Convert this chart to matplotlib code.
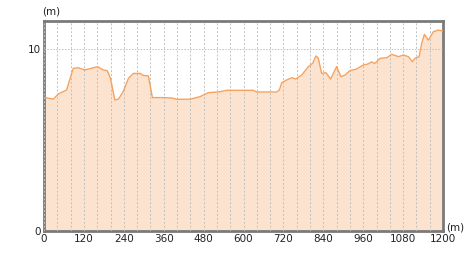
import matplotlib
matplotlib.use("Agg")
import matplotlib.pyplot as plt
import numpy as np

distance_m = [0, 28, 43, 68, 88, 103, 123, 143, 161, 178, 190, 200, 213, 224, 238, 254, 269, 289,
              299, 314, 326, 359, 384, 399, 439, 469, 494, 529, 549, 589, 629, 640, 700, 708,
              715, 730, 745, 757, 775, 795, 808, 818, 825, 835, 848, 862, 880, 893, 905, 920,
              940, 960, 975, 985, 995, 1011, 1031, 1046, 1066, 1081, 1096, 1108, 1116, 1128,
              1136, 1144, 1156, 1171, 1186, 1200]
elevation_m = [7.35, 7.24, 7.53, 7.75, 8.94, 8.97, 8.85, 8.94, 9.03, 8.85, 8.81, 8.39, 7.2, 7.25,
               7.65, 8.39, 8.66, 8.66, 8.55, 8.52, 7.33, 7.33, 7.31, 7.24, 7.24, 7.38, 7.6, 7.65,
               7.73, 7.73, 7.73, 7.64, 7.64, 7.75, 8.15, 8.30, 8.42, 8.35, 8.57, 9.03, 9.21, 9.62,
               9.49, 8.66, 8.7, 8.35, 9.03, 8.48, 8.57, 8.81, 8.9, 9.12, 9.18, 9.29, 9.21, 9.49,
               9.52, 9.71, 9.58, 9.67, 9.58, 9.3, 9.49, 9.58, 10.31, 10.8, 10.49, 10.95, 11.04, 10.99]
x_ticks = list(range(0, 1201, 120))
y_ticks = [0, 10]

fig = plt.figure(figsize=(4.73, 2.58), dpi=100)
ax = fig.add_axes([44/473, 27/258, 399/473, 210/258])

ax.fill_between(distance_m, elevation_m, 0, color="#fce3cf", lw=0, zorder=1)
ax.plot(distance_m, elevation_m, color="#f5a25e", lw=1.0, zorder=3)

ax.set_xlim(0, 1200)
ax.set_ylim(0, 11.54)
ax.set_xticks(x_ticks)
ax.set_yticks(y_ticks)
ax.set_xticks(range(0, 1201, 40), minor=True)
ax.tick_params(which="both", length=0, labelsize=7.5, colors="#222222", pad=2)
ax.grid(True, which="minor", axis="x", color="#c0c0c0", ls=(0, (2, 2)), lw=0.7, zorder=2)
ax.grid(True, which="major", axis="x", color="#c0c0c0", ls=(0, (2, 2)), lw=0.7, zorder=2)
ax.grid(True, which="major", axis="y", color="#c0c0c0", ls=(0, (1.5, 1.5)), lw=0.7, zorder=2)
ax.set_axisbelow(False)
for s in ax.spines.values():
    s.set_color("#7a7a7a")
    s.set_linewidth(2)

fig.text(42/473, 1 - 11/258, "(m)", fontsize=7.5, ha="left", va="center", color="#222222")
fig.text(446/473, 1 - 227/258, "(m)", fontsize=7.5, ha="left", va="center", color="#222222")

fig.savefig("out.png", dpi=100)
